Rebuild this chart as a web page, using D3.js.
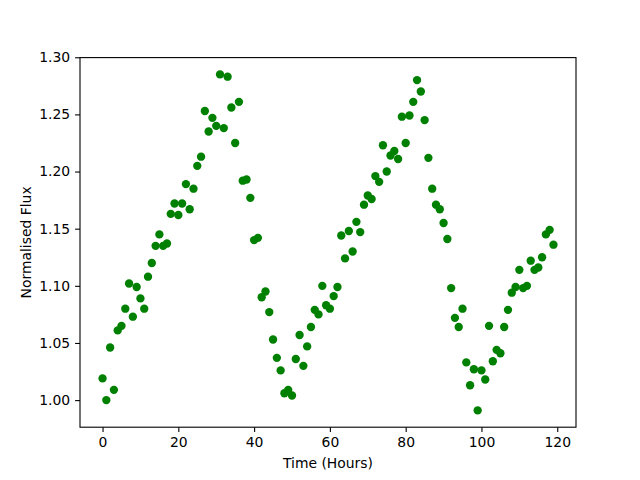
<!DOCTYPE html>
<html>
<head>
<meta charset="utf-8">
<script src="https://cdn.jsdelivr.net/npm/d3@7"></script>
<style>
  body { margin: 0; background: #fff; }
  svg text { font-family: "DejaVu Sans", sans-serif; }
</style>
</head>
<body>
<div id="chart"></div>
<script>
// time in hours, one reading each hour
const hours = d3.range(0, 120);

// normalised flux
const flux = [
  1.019, 1.000, 1.046, 1.009, 1.061, 1.065, 1.080, 1.102, 1.073, 1.099,
  1.089, 1.080, 1.108, 1.120, 1.135, 1.145, 1.135, 1.137, 1.163, 1.172,
  1.162, 1.172, 1.189, 1.167, 1.185, 1.205, 1.213, 1.253, 1.235, 1.247,
  1.240, 1.285, 1.238, 1.283, 1.256, 1.225, 1.261, 1.192, 1.193, 1.177,
  1.140, 1.142, 1.090, 1.095, 1.077, 1.053, 1.037, 1.026, 1.006, 1.009,
  1.004, 1.036, 1.057, 1.030, 1.047, 1.064, 1.079, 1.075, 1.100, 1.083,
  1.080, 1.091, 1.099, 1.144, 1.124, 1.148, 1.130, 1.156, 1.147, 1.171,
  1.179, 1.176, 1.196, 1.191, 1.223, 1.200, 1.214, 1.218, 1.211, 1.248,
  1.225, 1.249, 1.261, 1.280, 1.270, 1.245, 1.212, 1.185, 1.171, 1.167,
  1.155, 1.141, 1.098, 1.072, 1.064, 1.080, 1.033, 1.013, 1.027, 0.991,
  1.026, 1.018, 1.065, 1.034, 1.044, 1.041, 1.064, 1.079, 1.094, 1.099,
  1.114, 1.098, 1.100, 1.122, 1.114, 1.116, 1.125, 1.145, 1.149, 1.136
];

const xTicks = [0, 20, 40, 60, 80, 100, 120];
const yTicks = [1.00, 1.05, 1.10, 1.15, 1.20, 1.25, 1.30];

const width = 640, height = 480;
const plotLeft = 80, plotRight = 576, plotTop = 57.6, plotBottom = 427.2;

const svg = d3.select("#chart").append("svg")
  .attr("width", width)
  .attr("height", height);

// matplotlib style 5% padding around the data
function padded(ext) {
  const p = (ext[1] - ext[0]) * 0.05;
  return [ext[0] - p, ext[1] + p];
}

const x = d3.scaleLinear()
  .domain(padded(d3.extent(hours)))
  .range([plotLeft, plotRight]);

const y = d3.scaleLinear()
  .domain(padded(d3.extent(flux)))
  .range([plotBottom, plotTop]);

// x axis
const gx = svg.append("g")
  .attr("transform", "translate(0," + plotBottom + ")")
  .call(d3.axisBottom(x).tickValues(xTicks).tickFormat(d3.format("d"))
    .tickSizeInner(4.9).tickSizeOuter(0).tickPadding(4.9));

// y axis
const gy = svg.append("g")
  .attr("transform", "translate(" + plotLeft + ",0)")
  .call(d3.axisLeft(y).tickValues(yTicks).tickFormat(d3.format(".2f"))
    .tickSizeInner(4.9).tickSizeOuter(0).tickPadding(4.9));

[gx, gy].forEach(g => {
  g.select(".domain").remove();
  g.selectAll(".tick line").attr("stroke", "#000").attr("stroke-width", 1.1);
  g.selectAll(".tick text").attr("fill", "#000").style("font-size", "13.9px")
    .style("font-family", "DejaVu Sans, sans-serif");
});

// points
svg.append("g")
  .selectAll("circle")
  .data(hours)
  .enter()
  .append("circle")
  .attr("cx", (d, i) => x(d))
  .attr("cy", (d, i) => y(flux[i]))
  .attr("r", 4.17)
  .attr("fill", "#008000");

// frame
svg.append("rect")
  .attr("x", plotLeft)
  .attr("y", plotTop)
  .attr("width", plotRight - plotLeft)
  .attr("height", plotBottom - plotTop)
  .attr("fill", "none")
  .attr("stroke", "#000")
  .attr("stroke-width", 1.1);

// labels
svg.append("text")
  .attr("x", (plotLeft + plotRight) / 2)
  .attr("y", 468)
  .attr("text-anchor", "middle")
  .style("font-size", "13.9px")
  .text("Time (Hours)");

svg.append("text")
  .attr("transform", "translate(31," + ((plotTop + plotBottom) / 2) + ")rotate(-90)")
  .attr("text-anchor", "middle")
  .style("font-size", "13.9px")
  .text("Normalised Flux");
</script>
</body>
</html>
